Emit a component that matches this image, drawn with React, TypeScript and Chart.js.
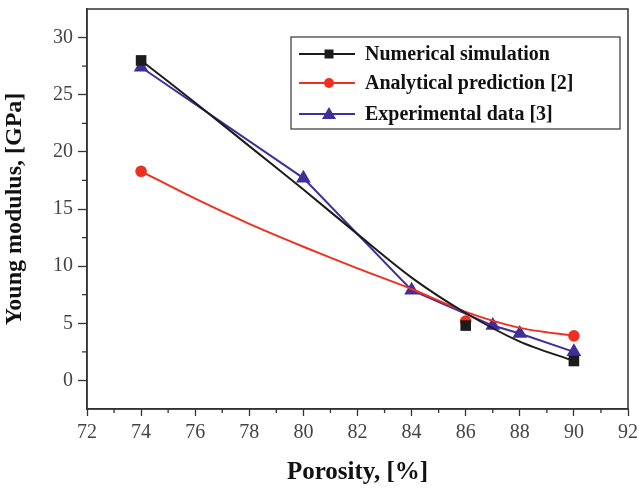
import React, { useEffect, useRef } from "react";
import { Chart, registerables } from "chart.js";

Chart.register(...registerables);

// ---- data ----
const numX = [74, 86, 90];
const numY = [28.0, 4.8, 1.7];
const anaX = [74, 86, 90];
const anaY = [18.3, 5.2, 3.9];
const expX = [74, 80, 84, 87, 88, 90];
const expY = [27.4, 17.7, 7.9, 4.8, 4.1, 2.5];
// fitted curves
const fitX = [74, 76, 78, 80, 82, 84, 86, 88, 90];
const numFitY = [28.0, 24.3, 20.5, 16.7, 12.8, 9.0, 5.9, 3.4, 1.7];
const anaFitY = [18.3, 15.9, 13.7, 11.7, 9.8, 8.0, 6.0, 4.6, 3.9];

const xTicks = [72, 74, 76, 78, 80, 82, 84, 86, 88, 90, 92];
const yTicks = [0, 5, 10, 15, 20, 25, 30];

const legendLabels = [
  "Numerical simulation",
  "Analytical prediction [2]",
  "Experimental data [3]",
];

const BLACK = "#1c1c1c";
const RED = "#f0301f";
const BLUE = "#3f2f9b";
const SERIF = '"Liberation Serif", "Times New Roman", serif';

const pts = (xs: number[], ys: number[]) => xs.map((x, i) => ({ x, y: ys[i] }));

const zeroPad = (s: any) => {
  s.paddingLeft = 0;
  s.paddingRight = 0;
  s.paddingTop = 0;
  s.paddingBottom = 0;
};

const framePlugin = {
  id: "frame",
  afterDraw(chart: any) {
    const { ctx, chartArea: a, scales } = chart;
    ctx.save();
    ctx.strokeStyle = "#333";
    ctx.lineWidth = 1.5;
    ctx.strokeRect(a.left, a.top, a.right - a.left, a.bottom - a.top);
    // minor ticks
    ctx.lineWidth = 1.3;
    ctx.beginPath();
    for (let v = 73; v < 92; v += 2) {
      const px = scales.x.getPixelForValue(v);
      ctx.moveTo(px, a.bottom);
      ctx.lineTo(px, a.bottom + 4);
    }
    for (let v = 2.5; v < 32; v += 5) {
      const py = scales.y.getPixelForValue(v);
      ctx.moveTo(a.left, py);
      ctx.lineTo(a.left - 5, py);
    }
    ctx.stroke();

    // legend
    const bx = 291, by = 37, bw = 329, bh = 92;
    ctx.lineWidth = 1.3;
    ctx.strokeStyle = "#444";
    ctx.fillStyle = "#fff";
    ctx.fillRect(bx, by, bw, bh);
    ctx.strokeRect(bx, by, bw, bh);
    const rows = [54, 83, 114];
    const colors = [BLACK, RED, BLUE];
    rows.forEach((ry, i) => {
      ctx.strokeStyle = colors[i];
      ctx.lineWidth = 2;
      ctx.beginPath();
      ctx.moveTo(299, ry);
      ctx.lineTo(355, ry);
      ctx.stroke();
      ctx.fillStyle = colors[i];
      const cx = 329;
      ctx.beginPath();
      if (i === 0) {
        ctx.rect(cx - 4.5, ry - 4.5, 9, 9);
      } else if (i === 1) {
        ctx.arc(cx, ry, 5, 0, Math.PI * 2);
      } else {
        ctx.moveTo(cx, ry - 7);
        ctx.lineTo(cx + 7, ry + 5);
        ctx.lineTo(cx - 7, ry + 5);
        ctx.closePath();
      }
      ctx.fill();
      ctx.fillStyle = "#111";
      ctx.font = `bold 20px ${SERIF}`;
      ctx.textBaseline = "middle";
      ctx.textAlign = "left";
      ctx.fillText(legendLabels[i], 365, ry + 1);
    });
    ctx.restore();
  },
};

export default function App() {
  const ref = useRef<HTMLCanvasElement | null>(null);

  useEffect(() => {
    document.body.style.margin = "0";
    const canvas = ref.current!;
    const chart = new Chart(canvas, {
      type: "scatter",
      data: {
        datasets: [
          {
            label: "num-fit",
            data: pts(fitX, numFitY),
            showLine: true,
            borderColor: BLACK,
            borderWidth: 2,
            pointRadius: 0,
            tension: 0.3,
          } as any,
          {
            label: "ana-fit",
            data: pts(fitX, anaFitY),
            showLine: true,
            borderColor: RED,
            borderWidth: 2,
            pointRadius: 0,
            tension: 0.3,
          } as any,
          {
            label: legendLabels[0],
            data: pts(numX, numY),
            showLine: false,
            pointStyle: "rect",
            pointRadius: 7.5,
            backgroundColor: BLACK,
            borderColor: BLACK,
            borderWidth: 0,
          },
          {
            label: legendLabels[1],
            data: pts(anaX, anaY),
            showLine: false,
            pointStyle: "circle",
            pointRadius: 5.8,
            backgroundColor: RED,
            borderColor: RED,
            borderWidth: 0,
          },
          {
            label: legendLabels[2],
            data: pts(expX, expY),
            showLine: true,
            tension: 0,
            borderColor: BLUE,
            borderWidth: 2,
            pointStyle: "triangle",
            pointRadius: 8.5,
            backgroundColor: BLUE,
            pointBorderWidth: 0,
          } as any,
        ],
      },
      options: {
        animation: false,
        responsive: false,
        maintainAspectRatio: false,
        layout: { padding: { left: 0, right: 11, top: 9, bottom: 0 } },
        plugins: {
          legend: { display: false },
          tooltip: { enabled: false },
        },
        scales: {
          x: {
            type: "linear",
            min: 72,
            max: 92,
            afterBuildTicks: (s: any) => {
              s.ticks = xTicks.map((v) => ({ value: v }));
            },
            afterFit: (s: any) => {
              s.height = 79;
              zeroPad(s);
            },
            ticks: {
              color: "#444",
              font: { family: SERIF, size: 20 },
              padding: 5,
            },
            grid: {
              display: true,
              drawOnChartArea: false,
              drawTicks: true,
              tickLength: 7,
              tickWidth: 1.3,
              tickColor: "#333",
            },
            border: { display: true, color: "#333", width: 1.5 },
            title: {
              display: true,
              text: "Porosity, [%]",
              color: "#111",
              font: { family: SERIF, size: 25, weight: "bold" },
              padding: { top: 6, bottom: 0 },
            },
          },
          y: {
            type: "linear",
            min: -2.5,
            max: 32.5,
            afterBuildTicks: (s: any) => {
              s.ticks = yTicks.map((v) => ({ value: v }));
            },
            afterFit: (s: any) => {
              s.width = 87;
              zeroPad(s);
            },
            ticks: {
              color: "#444",
              font: { family: SERIF, size: 20 },
              padding: 5,
            },
            grid: {
              display: true,
              drawOnChartArea: false,
              drawTicks: true,
              tickLength: 9,
              tickWidth: 1.3,
              tickColor: "#333",
            },
            border: { display: true, color: "#333", width: 1.5 },
            title: {
              display: true,
              text: "Young modulus, [GPa]",
              color: "#111",
              font: { family: SERIF, size: 24, weight: "bold" },
              padding: { top: 0, bottom: 6 },
            },
          },
        },
      },
      plugins: [framePlugin],
    } as any);
    return () => chart.destroy();
  }, []);

  return (
    <div style={{ position: "absolute", left: 0, top: 0, width: 639, height: 488, background: "#fff" }}>
      <canvas ref={ref} width={639} height={488} style={{ width: 639, height: 488 }} />
    </div>
  );
}
